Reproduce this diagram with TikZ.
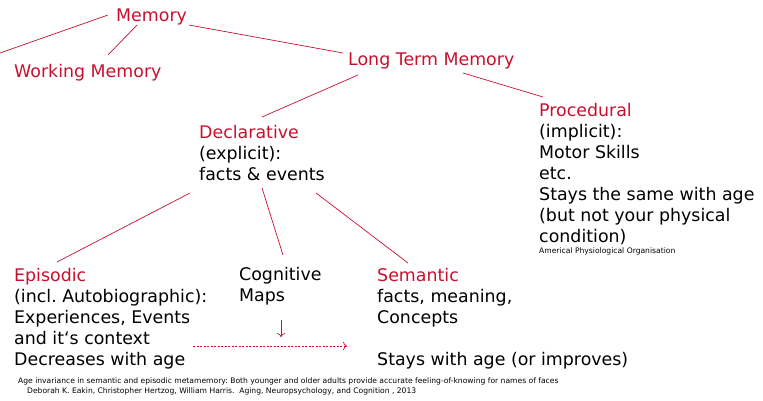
\documentclass[tikz,border=0pt]{standalone}
\usepackage{fontspec}
\setmainfont{DejaVu Sans}
\frenchspacing
\usetikzlibrary{positioning,calc,arrows.meta}
\definecolor{memred}{RGB}{200,16,46}
\tikzset{
  term/.style={anchor=base west,inner sep=0pt,text=memred,font=\fontsize{17.4}{21}\selectfont},
  block/.style={anchor=base west,inner sep=0pt,align=left,font=\fontsize{17.4}{21}\selectfont},
  tiny/.style={anchor=base west,inner sep=0pt,font=\fontsize{7.6}{9}\selectfont},
  link/.style={draw=memred,line width=0.7pt},
  flow/.style={draw=memred,line width=0.7pt,-{To[length=4pt]}},
  dflow/.style={flow,dash pattern=on 2.2pt off 1.3pt},
}
\begin{document}
\begin{tikzpicture}[x=1pt,y=-1pt]
  \useasboundingbox (0,0) rectangle (763,400);
  % ---- top level ----
  \node[term] (memory) at (116,21) {Memory};
  \node[term] (working) at (14,77) {Working Memory};
  \node[term] (ltm) at (348,65) {Long Term Memory};
  \coordinate (offleft) at (0,53);
  % ---- long term branches (placed at last baseline) ----
  \node[block] (decl) at (199,180) {\textcolor{memred}{Declarative}\\(explicit):\\facts \& events};
  \node[block] (proc) at (539,242) {\textcolor{memred}{Procedural}\\(implicit):\\Motor Skills\\etc.\\Stays the same with age\\(but not your physical\\condition)};
  \node[tiny] (apo) at (539,253) {Americal Physiological Organisation};
  % ---- declarative branches ----
  \node[block] (epi) at (14,365) {\textcolor{memred}{Episodic}\\(incl. Autobiographic):\\Experiences, Events\\and it‘s context\\Decreases with age};
  \node[block] (cogn) at (239,301) {Cognitive\\Maps};
  \node[block] (sem) at (377,365) {\textcolor{memred}{Semantic}\\facts, meaning,\\Concepts\\[21pt]Stays with age (or improves)};
  % ---- source ----
  \node[tiny] (cite) at (18,383) {Age invariance in semantic and episodic metamemory: Both younger and older adults provide accurate feeling-of-knowing for names of faces};
  \node[tiny] (authors) at (27,393) {Deborah K. Eakin, Christopher Hertzog, William Harris.\ \ Aging, Neuropsychology, and Cognition , 2013};
  % ---- edges ----
  \draw[link] ($(memory.base west)+(-8,-6)$) -- (offleft);
  \draw[link] ($(memory.base west)+(21,4)$) -- ($(working.base west)+(94,-22)$);
  \draw[link] ($(memory.base west)+(73,4)$) -- ($(ltm.base west)+(-5,-12)$);
  \draw[link] ($(ltm.base west)+(10,10)$) -- ($(decl.base west)+(63,-63)$);
  \draw[link] ($(ltm.base west)+(115,8)$) -- ($(proc.base west)+(4,-145)$);
  \draw[link] ($(decl.base west)+(-9,13)$) -- ($(epi.base west)+(43,-103)$);
  \draw[link] ($(decl.base west)+(63,8)$) -- ($(cogn.base west)+(44,-46)$);
  \draw[link] ($(decl.base west)+(117,13)$) -- ($(sem.base west)+(31,-102)$);
  \draw[flow] ($(cogn.base west)+(42,19)$) -- ($(cogn.base west)+(42,36)$);
  \draw[dflow] ($(epi.base west)+(179,-19)$) -- ($(sem.base west)+(-30,-19)$);
\end{tikzpicture}
\end{document}
